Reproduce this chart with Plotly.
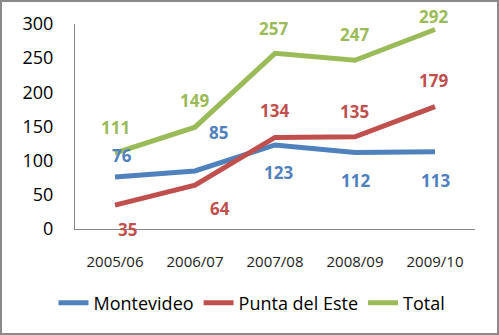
import plotly.graph_objects as go

seasons = ["2005/06", "2006/07", "2007/08", "2008/09", "2009/10"]
montevideo = [76, 85, 123, 112, 113]
punta = [35, 64, 134, 135, 179]
total = [111, 149, 257, 247, 292]

series = [
    ("Montevideo", montevideo, "#4F81BD"),
    ("Punta del Este", punta, "#C0504D"),
    ("Total", total, "#9BBB59"),
]

# label offsets (pixels) relative to each point, per series
offsets = {
    "Montevideo": [(7, -22), (23, -38), (3, 28), (0, 28), (0, 29)],
    "Punta del Este": [(12, 24), (25, 23), (-1, -27), (-1, -25), (-2, -26)],
    "Total": [(0, -26), (-1, -27), (-2, -25), (-1, -26), (-2, -13)],
}

FONT = "Open Sans"
fig = go.Figure()
annotations = []
for name, vals, color in series:
    fig.add_trace(go.Scatter(
        x=seasons, y=vals, name=name, mode="lines",
        line=dict(color=color, width=5),
    ))
    for s, v, (dx, dy) in zip(seasons, vals, offsets[name]):
        annotations.append(dict(
            x=s, y=v, text=f"<b>{v}</b>", showarrow=False,
            xshift=dx, yshift=-dy,
            font=dict(family=FONT, size=17, color=color),
        ))

L, R, T, B = 75, 24, 24, 106
W, H = 499, 335
pw, ph = W - L - R, H - T - B

def px_x(p):
    return (p - L) / pw

def px_y(p):
    return (H - B - p) / ph

fig.update_layout(
    width=W, height=H,
    margin=dict(l=L, r=R, t=T, b=B),
    paper_bgcolor="white", plot_bgcolor="white",
    font=dict(family=FONT, size=16, color="black"),
    xaxis=dict(
        showgrid=False, showline=True, linecolor="#868686", linewidth=1,
        ticks="", tickfont=dict(size=15, color="#222"), zeroline=False,
        range=[-0.5, 4.5], ticklabelstandoff=19,
    ),
    yaxis=dict(
        range=[0, 300], dtick=50, showgrid=False, showline=True,
        linecolor="#868686", linewidth=1, ticks="", zeroline=False,
        tickfont=dict(size=18), ticklabelstandoff=17,
    ),
    showlegend=True,
    legend=dict(
        orientation="h", x=px_x(252), xanchor="center",
        y=px_y(303), yanchor="middle",
        font=dict(size=18), itemwidth=30, tracegroupgap=0,
    ),
    annotations=annotations,
    shapes=[dict(
        type="rect", xref="paper", yref="paper",
        x0=px_x(1), x1=px_x(498), y0=px_y(334), y1=px_y(1),
        line=dict(color="#8a8a8a", width=2), fillcolor="rgba(0,0,0,0)",
    )],
)

fig.write_html("out.html")
